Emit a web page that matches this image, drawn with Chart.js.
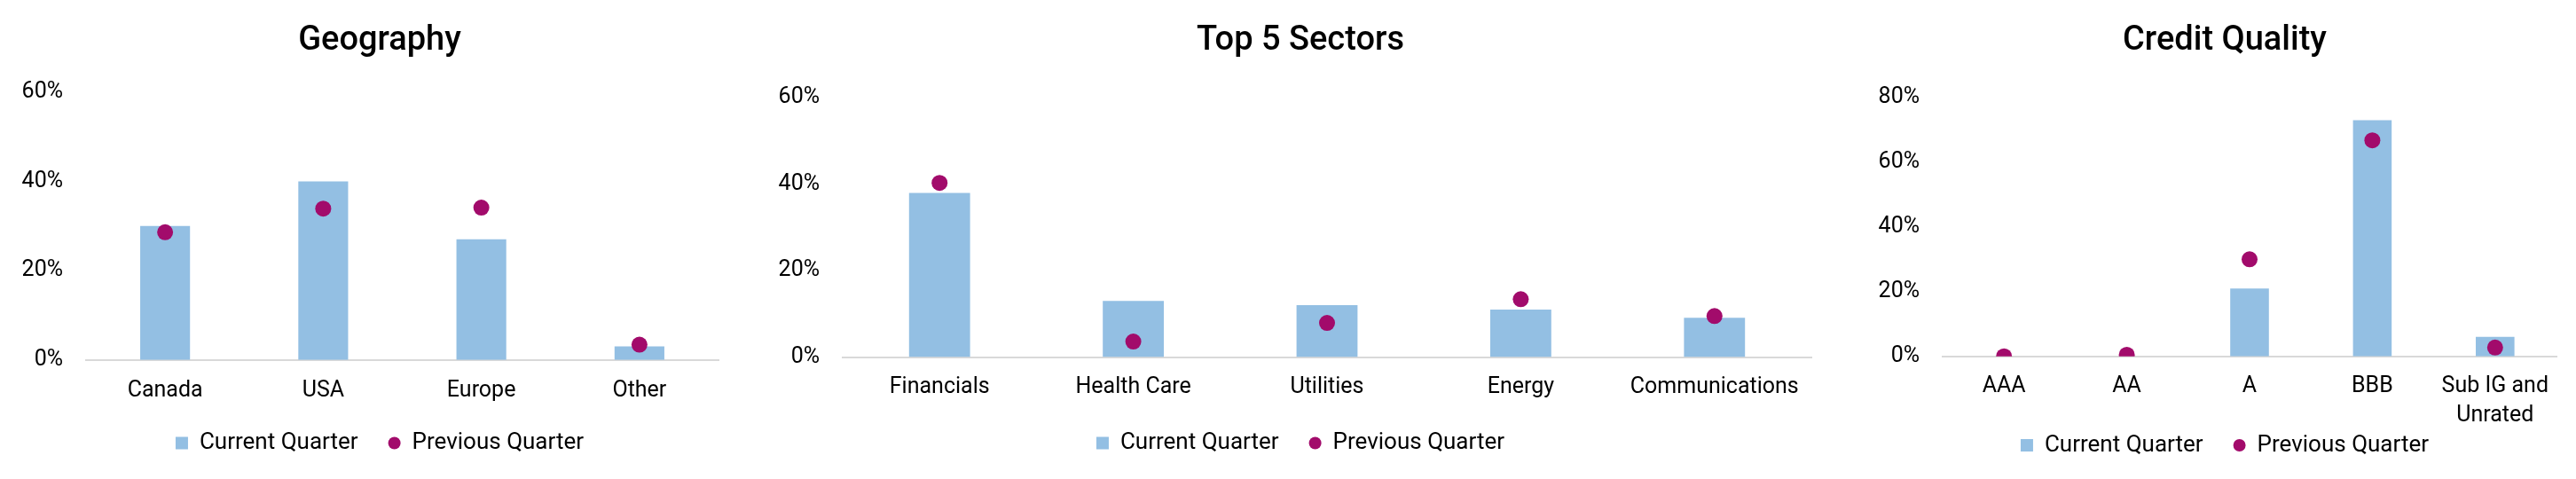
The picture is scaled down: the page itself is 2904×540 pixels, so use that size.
<!DOCTYPE html>
<html><head><meta charset="utf-8">
<script src="https://cdn.jsdelivr.net/npm/chart.js@4.4.1/dist/chart.umd.min.js"></script>
<style>
html,body{margin:0;padding:0;background:#fff;width:2904px;height:540px;overflow:hidden}
canvas{position:absolute;top:0}
</style></head><body>
<canvas id="c1" width="856" height="540" style="left:0px"></canvas>
<canvas id="c2" width="1212" height="540" style="left:860px"></canvas>
<canvas id="c3" width="792" height="540" style="left:2112px"></canvas>
<script>
// ---- data ----
const seriesNames = ['Current Quarter', 'Previous Quarter'];

const geoTitle = 'Geography';
const geoCategories = ['Canada', 'USA', 'Europe', 'Other'];
const geoCurrent = [30, 40, 27, 3];
const geoPrevious = [28.6, 33.9, 34.1, 3.4];
const geoTicks = [0, 20, 40, 60];

const sectorTitle = 'Top 5 Sectors';
const sectorCategories = ['Financials', 'Health Care', 'Utilities', 'Energy', 'Communications'];
const sectorCurrent = [38, 13, 12, 11, 9.1];
const sectorPrevious = [40.3, 3.6, 7.9, 13.4, 9.5];
const sectorTicks = [0, 20, 40, 60];

const creditTitle = 'Credit Quality';
const creditCategories = ['AAA', 'AA', 'A', 'BBB', ['Sub IG and', 'Unrated']];
const creditCurrent = [0, 0, 21, 73, 6];
const creditPrevious = [0, 0.5, 30, 66.8, 2.7];
const creditTicks = [0, 20, 40, 60, 80];

// ---- style ----
const FONT = 'Roboto, "DejaVu Sans", sans-serif';
const BAR = '#93BFE3';
const DOT = '#A20B6B';
const AXIS = '#D9D9D9';
const TXT = '#000000';

function build(id, p) {
  const ticks = p.ticks;
  new Chart(document.getElementById(id), {
    type: 'bar',
    data: {
      labels: p.labels,
      datasets: [
        { type: 'bar', label: seriesNames[0], data: p.current, backgroundColor: BAR, borderWidth: 0,
          barPercentage: 0.315, categoryPercentage: 1, order: 2 },
        { type: 'line', label: seriesNames[1], data: p.previous, showLine: false, pointRadius: 9,
          pointHoverRadius: 9, pointBackgroundColor: DOT, pointBorderWidth: 0, backgroundColor: DOT,
          borderColor: DOT, order: 1 }
      ]
    },
    options: {
      responsive: false, animation: false, devicePixelRatio: 1,
      layout: { padding: { left: 0, right: 0, top: 0, bottom: p.padBottom } },
      plugins: {
        title: { display: true, text: p.title, color: TXT,
          font: { family: FONT, size: 38, weight: '500', lineHeight: 1.2 },
          padding: { top: 23.7, bottom: p.titleBottom } },
        legend: { position: 'bottom',
          labels: { color: TXT, font: { family: FONT, size: 26 }, boxWidth: 14, boxHeight: 14,
            padding: 34, useBorderRadius: true,
            generateLabels: (chart) => chart.data.datasets.map((ds, i) => ({
              text: ds.label, fillStyle: i === 0 ? BAR : DOT, strokeStyle: 'rgba(0,0,0,0)',
              lineWidth: 0, hidden: false, datasetIndex: i, borderRadius: i === 0 ? 0 : 7, fontColor: TXT
            })) } },
        tooltip: { enabled: false }
      },
      scales: {
        x: {
          grid: { display: false, drawTicks: false },
          border: { display: true, color: AXIS, width: 2 },
          ticks: { color: TXT, font: { family: FONT, size: 25, lineHeight: 1.3 }, padding: p.xPad,
            maxRotation: 0, minRotation: 0, autoSkip: false },
          afterFit: (s) => { s.height = p.xHeight; s._computeLabelArea = () => undefined; }
        },
        y: {
          min: ticks[0], max: ticks[ticks.length - 1],
          afterBuildTicks: (s) => { s.ticks = ticks.map(v => ({ value: v })); },
          grid: { display: false, drawTicks: false },
          border: { display: false },
          ticks: { color: TXT, font: { family: FONT, size: 25 }, padding: 26, callback: (v) => v + '%' },
          afterFit: (s) => { s.width = p.yWidth; }
        },
        yRightSpacer: {
          type: 'linear', position: 'right', display: true,
          grid: { display: false, drawTicks: false },
          border: { display: false },
          ticks: { display: false },
          afterFit: (s) => { s.width = p.rightWidth; }
        }
      }
    }
  });
}

build('c1', { title: geoTitle, labels: geoCategories, current: geoCurrent, previous: geoPrevious, ticks: geoTicks,
  yWidth: 97, rightWidth: 46, titleBottom: 34.5, padBottom: 17.5, xHeight: 46.8, xPad: 18.5 });
build('c2', { title: sectorTitle, labels: sectorCategories, current: sectorCurrent, previous: sectorPrevious, ticks: sectorTicks,
  yWidth: 90, rightWidth: 30, titleBottom: 40.9, padBottom: 17.5, xHeight: 49.9, xPad: 18.2 });
build('c3', { title: creditTitle, labels: creditCategories, current: creditCurrent, previous: creditPrevious, ticks: creditTicks,
  yWidth: 78, rightWidth: 22, titleBottom: 40.7, padBottom: 15, xHeight: 53.3, xPad: 18 });
</script>
</body></html>
